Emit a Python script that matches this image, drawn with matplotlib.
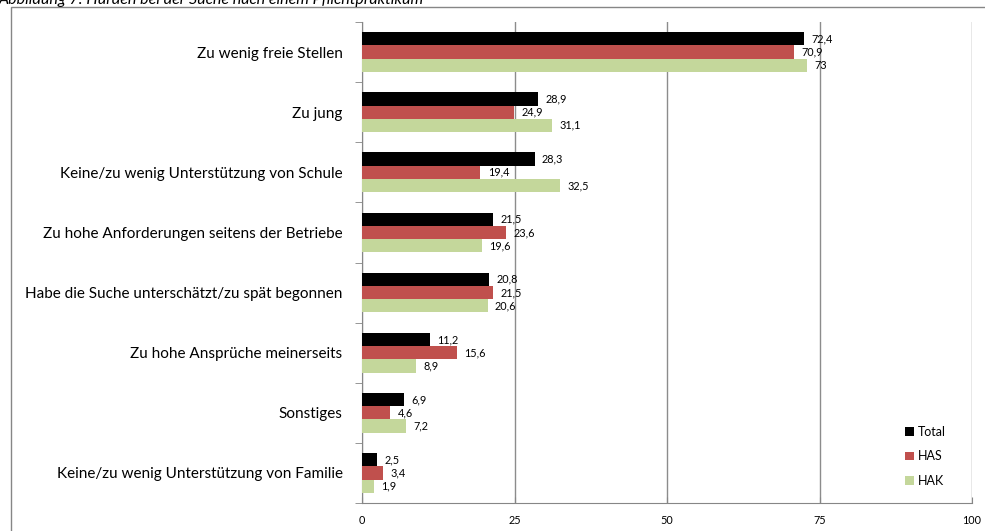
import numpy as np
import matplotlib.pyplot as plt
from matplotlib.patches import Rectangle

plt.rcParams['font.family'] = ['Lato', 'DejaVu Sans']

categories = ['Zu wenig freie Stellen', 'Zu jung',
              'Keine/zu wenig Unterstützung von Schule',
              'Zu hohe Anforderungen seitens der Betriebe',
              'Habe die Suche unterschätzt/zu spät begonnen',
              'Zu hohe Ansprüche meinerseits', 'Sonstiges',
              'Keine/zu wenig Unterstützung von Familie']
total = [72.4, 28.9, 28.3, 21.5, 20.8, 11.2, 6.9, 2.5]
has = [70.9, 24.9, 19.4, 23.6, 21.5, 15.6, 4.6, 3.4]
hak = [73, 31.1, 32.5, 19.6, 20.6, 8.9, 7.2, 1.9]
series_names = ['Total', 'HAS', 'HAK']
colors = ['#000000', '#C0504D', '#C4D79B']
xticks = [0, 25, 50, 75, 100]

fig = plt.figure(figsize=(9.85, 5.31), dpi=100)
ax = fig.add_axes([362/985, 28/531, 610/985, 481/531])

# outer chart frame (cut at right/bottom in the reference)
fig.patches.append(Rectangle((11/985, -0.1), 1.1, 1 - 7/531 + 0.1,
                             transform=fig.transFigure, fill=False,
                             edgecolor='#868686', lw=1))
fig.text(-0.001, 1 - 4/531, 'Abbildung 7: Hürden bei der Suche nach einem Pflichtpraktikum',
         fontsize=11.5, style='italic', va='baseline', ha='left')

n = len(categories)
y = np.arange(n)
h = 0.22
for k, vals in enumerate([total, has, hak]):
    pos = y + (k - 1) * h
    ax.barh(pos, vals, height=h, color=colors[k], label=series_names[k], zorder=3)
    for p, v in zip(pos, vals):
        ax.text(v + 1.2, p, ('%g' % v).replace('.', ','), va='center', ha='left',
                fontsize=7.8, zorder=4)

ax.set_ylim(n - 0.5, -0.5)
ax.set_xlim(0, 100)
ax.set_yticks(y)
ax.set_yticklabels(categories, fontsize=11)
ax.set_yticks(np.arange(n + 1) - 0.5, minor=True)
ax.tick_params(axis='y', which='major', length=0, pad=14)
ax.tick_params(axis='y', which='minor', length=5, color='#868686')
ax.set_xticks(xticks)
ax.set_xticklabels([str(t) for t in xticks], fontsize=7.8)
ax.tick_params(axis='x', length=4, color='#868686', pad=9, direction='in')
ax.xaxis.grid(True, color='#8c8c8c', lw=1, zorder=0)
for s in ['top', 'right']:
    ax.spines[s].set_visible(False)
for s in ['left', 'bottom']:
    ax.spines[s].set_color('#868686')

ax.legend(loc='lower right', bbox_to_anchor=(0.975, 0.01), frameon=False,
          fontsize=9, handlelength=0.7, handleheight=0.7, labelspacing=1.0,
          handletextpad=0.3)

fig.savefig('out.png', dpi=100)
